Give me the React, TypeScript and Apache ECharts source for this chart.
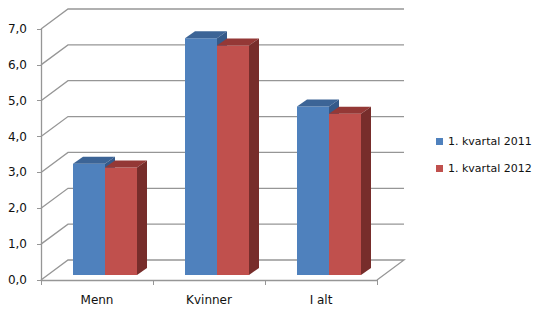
import React, { useEffect, useRef } from "react";
import * as echarts from "echarts";

const categories = ["Menn", "Kvinner", "I alt"];
const values2011 = [3.1, 6.6, 4.7];
const values2012 = [3.0, 6.4, 4.5];
const seriesNames = ["1. kvartal 2011", "1. kvartal 2012"];
const yTicks = [0, 1, 2, 3, 4, 5, 6, 7];

const WALL_DX = 27;
const WALL_DY = -20;
const BAR_DX = 10;
const BAR_DY = -7;
const BAR_SHIFT_Y = -5;
const BAR_W = 32;
const BAR_START = -24;

const palettes = [
  { front: "#4F81BD", top: "#3C6496", side: "#345A8A" },
  { front: "#C0504D", top: "#943836", side: "#772D2B" },
];

function makeBarRender(s: number) {
  const pal = palettes[s];
  return (params: any, api: any) => {
    const idx = api.value(0);
    const v = api.value(1);
    const base = api.coord([idx, 0]);
    const top = api.coord([idx, v]);
    const x0 = base[0] + BAR_START + BAR_W * s;
    const x1 = x0 + BAR_W;
    const yb = base[1] + BAR_SHIFT_Y;
    const yt = top[1] + BAR_SHIFT_Y;
    return {
      type: "group",
      children: [
        {
          type: "polygon",
          shape: { points: [[x0, yb], [x1, yb], [x1, yt], [x0, yt]] },
          style: { fill: pal.front },
        },
        {
          type: "polygon",
          shape: {
            points: [
              [x0, yt],
              [x1, yt],
              [x1 + BAR_DX, yt + BAR_DY],
              [x0 + BAR_DX, yt + BAR_DY],
            ],
          },
          style: { fill: pal.top },
        },
        {
          type: "polygon",
          shape: {
            points: [
              [x1, yb],
              [x1 + BAR_DX, yb + BAR_DY],
              [x1 + BAR_DX, yt + BAR_DY],
              [x1, yt],
            ],
          },
          style: { fill: pal.side },
        },
      ],
    };
  };
}

function renderGrid(params: any, api: any) {
  const v = api.value(1);
  const cs = params.coordSys;
  const left = cs.x;
  const right = cs.x + cs.width;
  const y = api.coord([0, v])[1];
  const pts: number[][] = [
    [left, y],
    [left + WALL_DX, y + WALL_DY],
    [right + WALL_DX, y + WALL_DY],
  ];
  if (v === 0) pts.push([right, y]);
  return {
    type: "polyline",
    shape: { points: pts },
    style: { stroke: "#969696", lineWidth: 1.3, fill: null },
  };
}

export default function App() {
  const ref = useRef<HTMLDivElement>(null);
  useEffect(() => {
    document.body.style.margin = "0";
    const chart = echarts.init(ref.current!, null, { renderer: "svg" });
    const font = "DejaVu Sans, Verdana, sans-serif";
    chart.setOption({
      animation: false,
      backgroundColor: "#ffffff",
      grid: { left: 41, top: 29, width: 336, height: 251 },
      legend: {
        orient: "vertical",
        left: 431,
        top: 131,
        itemWidth: 7,
        itemHeight: 7,
        itemGap: 16,
        icon: "rect",
        data: seriesNames,
        textStyle: { fontFamily: font, fontSize: 11, color: "#111" },
      },
      xAxis: {
        type: "category",
        data: categories,
        axisLine: { lineStyle: { color: "#969696", width: 1.3 } },
        axisTick: { show: true, length: 5, lineStyle: { color: "#969696" } },
        axisLabel: { fontFamily: font, fontSize: 12, color: "#111", margin: 14 },
        splitLine: { show: false },
      },
      yAxis: {
        type: "value",
        min: 0,
        max: 7,
        interval: 1,
        axisLine: { show: true, lineStyle: { color: "#969696", width: 1.3 } },
        axisTick: { show: true, length: 4, lineStyle: { color: "#969696" } },
        axisLabel: {
          fontFamily: font,
          fontSize: 12,
          color: "#111",
          margin: 14,
          formatter: (v: number) => v.toFixed(1).replace(".", ","),
        },
        splitLine: { show: false },
      },
      series: [
        {
          type: "custom",
          name: "grid",
          z: 1,
          clip: false,
          silent: true,
          renderItem: renderGrid,
          data: yTicks.map((t) => [0, t]),
        },
        {
          type: "custom",
          name: seriesNames[0],
          z: 2,
          clip: false,
          itemStyle: { color: palettes[0].front },
          renderItem: makeBarRender(0),
          data: values2011.map((v, i) => [i, v]),
        },
        {
          type: "custom",
          name: seriesNames[1],
          z: 3,
          clip: false,
          itemStyle: { color: palettes[1].front },
          renderItem: makeBarRender(1),
          data: values2012.map((v, i) => [i, v]),
        },
      ],
    });
    return () => chart.dispose();
  }, []);
  return <div ref={ref} style={{ width: 536, height: 315 }} />;
}
